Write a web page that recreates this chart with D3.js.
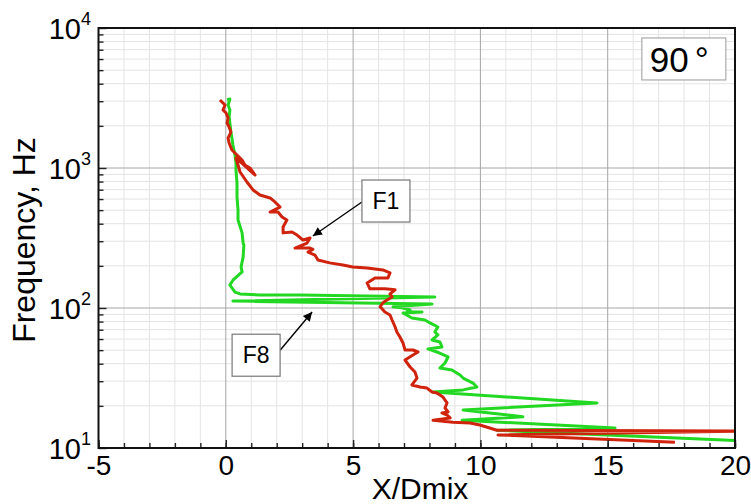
<!DOCTYPE html>
<html>
<head>
<meta charset="utf-8">
<script src="https://cdn.jsdelivr.net/npm/d3@7/dist/d3.min.js"></script>
<style>
  body { margin: 0; background: #fff; }
  text { font-family: "Liberation Sans", Arial, sans-serif; fill: #000; }
</style>
</head>
<body>
<div id="container"></div>
<script>
// axis setup
var xTicks = [-5, 0, 5, 10, 15, 20];
var yExponents = [1, 2, 3, 4];

// F1 (red) : x/Dmix and frequency (Hz)
var redX = [-0.23, -0.11, -0.03, -0.11, 0.01, 0.09, 0.05, 0.13, 0.20, 0.09, 0.13, 0.24, 0.44, 0.64, 0.75, 0.95, 1.15,
  0.40, 0.56, 0.83, 1.07, 1.34, 1.74, 1.93, 2.13, 1.74, 2.05, 2.21, 2.40, 2.25, 2.25, 2.60, 2.80, 3.03, 3.31, 3.19,
  2.72, 3.31, 3.42, 3.23, 3.50, 3.62, 4.08, 4.60, 4.99, 5.55, 6.17, 6.45, 6.37, 5.86, 5.55, 5.66, 6.25, 6.65, 6.45,
  6.53, 6.33, 6.17, 6.06, 6.25, 6.45, 6.53, 6.65, 6.72, 6.84, 6.96, 7.04, 7.35, 7.55, 7.35, 7.04, 7.24, 7.43, 7.51,
  7.31, 7.63, 7.90, 8.10, 8.29, 8.53, 8.69, 8.61, 8.73, 8.49, 8.69, 8.81, 8.14, 8.92, 9.59, 9.98, 10.65, 20.6,
  10.69, 17.64];
var redF = [3062, 2911, 2818, 2597, 2471, 2276, 2096, 1963, 1807, 1637, 1509, 1344, 1239, 1140, 1050, 1000, 891,
  1179, 936, 794, 697, 642, 611, 572, 526, 485, 485, 447, 425, 379, 344, 349, 332, 306, 316, 291,
  268, 268, 262, 251, 239, 220, 210, 203, 196, 193, 187, 178, 164, 164, 151, 137, 137, 135, 126,
  120, 114, 109, 102, 93.6, 89.1, 82.1, 73.2, 67.4, 62.1, 56.2, 50.1, 50.1, 48.5, 46.2, 42.5, 37.9, 34.9, 31.6,
  28.2, 27.3, 26.8, 25.1, 24.7, 23.1, 21.0, 19.3, 18.1, 17.8, 17.2, 16.4, 15.8, 15.3, 15.1, 14.6, 13.4, 13.2,
  12.4, 11.0];

// F8 (green)
var greenX = [0.05, 0.16, 0.09, 0.16, 0.13, 0.16, 0.20, 0.24, 0.28, 0.32, 0.36, 0.40, 0.40, 0.44, 0.44, 0.48, 0.48,
  0.64, 0.68, 0.71, 0.68, 0.60, 0.64, 0.28, 0.16, 0.36, 0.56, 1.34, 2.91, 8.21, 0.28, 8.10, 6.57, 6.96, 7.24, 7.12,
  7.71, 6.96, 7.31, 7.82, 8.02, 8.33, 8.21, 8.33, 8.10, 8.41, 8.49, 7.94, 8.29, 8.73, 8.61, 8.41, 8.88, 9.20, 9.32,
  9.71, 9.86, 9.32, 8.14, 14.58, 9.32, 11.67, 9.28, 15.29, 10.65, 20.6];
var greenF = [3062, 3111, 2818, 2597, 2313, 2096, 1807, 1637, 1460, 1344, 1239, 1086, 968, 781, 621, 501, 425,
  344, 291, 282, 231, 196, 181, 158, 146, 130, 126, 124, 124, 120, 112, 107, 102, 100, 96.8, 93.6,
  93.6, 92.1, 84.9, 82.1, 78.2, 73.2, 67.4, 64.2, 59.1, 57.2, 52.6, 51.0, 48.5, 44.7, 40.5, 37.3, 36.1, 33.2, 31.6,
  29.1, 27.3, 26.0, 25.1, 21.0, 18.7, 16.7, 15.8, 13.9, 13.4, 11.2];

// labels and their anchor points (data units)
var labelNames = ["F1", "F8"];
var labelPos = [[6.29, 581], [1.19, 46]];
var arrowTips = [[3.42, 327], [3.39, 93.6]];
var angleText = "90";
var anglePos = [17.99, 6010];

var width = 751;
var height = 504;
var margin = {left: 98.5, right: 16, top: 28, bottom: 56};

var svg = d3.select("#container")
  .append("svg")
  .attr("width", width)
  .attr("height", height);

var x = d3.scaleLinear()
  .domain([-5, 20])
  .range([margin.left, width - margin.right]);

var y = d3.scaleLog()
  .domain([10, 10000])
  .range([height - margin.bottom, margin.top]);

var left = x.range()[0], right = x.range()[1];
var top_ = y.range()[1], bottom = y.range()[0];

// minor values
var xMinor = d3.range(-5, 20.5, 1);
var yMinor = [];
[1, 2, 3].forEach(function(e) {
  for (var k = 2; k <= 9; k++) yMinor.push(k * Math.pow(10, e));
});
var yMajor = yExponents.map(function(e) { return Math.pow(10, e); });

// grid
var grid = svg.append("g");
grid.selectAll(".vminor").data(xMinor.filter(function(v) { return v % 5 != 0; }))
  .enter().append("line")
  .attr("x1", function(d) { return x(d); }).attr("x2", function(d) { return x(d); })
  .attr("y1", top_).attr("y2", bottom)
  .attr("stroke", "#e4e4e4").attr("stroke-width", 1);
grid.selectAll(".hminor").data(yMinor)
  .enter().append("line")
  .attr("x1", left).attr("x2", right)
  .attr("y1", function(d) { return y(d); }).attr("y2", function(d) { return y(d); })
  .attr("stroke", "#e4e4e4").attr("stroke-width", 1);
grid.selectAll(".vmajor").data(xTicks)
  .enter().append("line")
  .attr("x1", function(d) { return x(d); }).attr("x2", function(d) { return x(d); })
  .attr("y1", top_).attr("y2", bottom)
  .attr("stroke", "#a6a6a6").attr("stroke-width", 1);
grid.selectAll(".hmajor").data(yMajor)
  .enter().append("line")
  .attr("x1", left).attr("x2", right)
  .attr("y1", function(d) { return y(d); }).attr("y2", function(d) { return y(d); })
  .attr("stroke", "#a6a6a6").attr("stroke-width", 1);

// curves
svg.append("clipPath").attr("id", "clip")
  .append("rect")
  .attr("x", left).attr("y", top_)
  .attr("width", right - left).attr("height", bottom - top_);

var line = d3.line()
  .x(function(d) { return x(d[0]); })
  .y(function(d) { return y(d[1]); });

var redData = redX.map(function(v, i) { return [v, redF[i]]; });
var greenData = greenX.map(function(v, i) { return [v, greenF[i]]; });

var curves = svg.append("g").attr("clip-path", "url(#clip)");
curves.append("path")
  .attr("d", line(greenData))
  .attr("fill", "none")
  .attr("stroke", "#22d822")
  .attr("stroke-width", 3)
  .attr("stroke-linejoin", "round");
curves.append("path")
  .attr("d", line(redData))
  .attr("fill", "none")
  .attr("stroke", "#d0230d")
  .attr("stroke-width", 3)
  .attr("stroke-linejoin", "round");

// axes (ticks drawn inside)
var xAxis = d3.axisBottom(x).tickValues(xTicks).tickSizeInner(-8).tickSizeOuter(0).tickPadding(7)
  .tickFormat(function(d) { return d; });
var xAxisMinor = d3.axisBottom(x).tickValues(xMinor).tickSize(-5).tickFormat("");
var yAxis = d3.axisLeft(y).tickValues(yMajor).tickSizeInner(-8).tickSizeOuter(0).tickFormat("");
var yAxisMinor = d3.axisLeft(y).tickValues(yMinor).tickSize(-5).tickFormat("");

svg.append("g").attr("transform", "translate(0," + bottom + ")").call(xAxisMinor)
  .call(function(g) { g.select(".domain").remove(); });
var gx = svg.append("g").attr("transform", "translate(0," + bottom + ")").call(xAxis);
gx.selectAll("text").attr("font-size", 28).attr("font-family", "Liberation Sans, Arial, sans-serif")
  .attr("fill", "#000");
svg.append("g").attr("transform", "translate(" + left + ",0)").call(yAxisMinor)
  .call(function(g) { g.select(".domain").remove(); });
var gy = svg.append("g").attr("transform", "translate(" + left + ",0)").call(yAxis);
svg.selectAll(".tick line").attr("stroke", "#222").attr("stroke-width", 1.4);
svg.selectAll(".domain").remove();

// y labels with superscript
var ylab = svg.append("g").selectAll("text").data(yExponents).enter().append("text")
  .attr("x", 91)
  .attr("y", function(d) { return y(Math.pow(10, d)) + 11; })
  .attr("text-anchor", "end")
  .attr("font-size", 29);
ylab.append("tspan").text("10");
ylab.append("tspan").attr("dy", -14).attr("font-size", 18).text(function(d) { return d; });

// frame
svg.append("rect")
  .attr("x", left).attr("y", top_)
  .attr("width", right - left).attr("height", bottom - top_)
  .attr("fill", "none").attr("stroke", "#111").attr("stroke-width", 2);

// axis titles
svg.append("text")
  .attr("x", 420).attr("y", 499)
  .attr("text-anchor", "middle")
  .attr("font-size", 30)
  .text("X/Dmix");
svg.append("text")
  .attr("transform", "translate(35,240) rotate(-90)")
  .attr("text-anchor", "middle")
  .attr("font-size", 32)
  .text("Frequency, Hz");

// arrowhead
svg.append("defs").append("marker")
  .attr("id", "arrow").attr("viewBox", "0 0 10 10")
  .attr("refX", 10).attr("refY", 5)
  .attr("markerWidth", 11).attr("markerHeight", 9)
  .attr("markerUnits", "userSpaceOnUse")
  .attr("orient", "auto")
  .append("path").attr("d", "M0,0 L10,5 L0,10 Z").attr("fill", "#000");

// annotations
var boxW = 48, boxH = 42;
labelNames.forEach(function(name, i) {
  var cx = x(labelPos[i][0]), cy = y(labelPos[i][1]);
  var tx = x(arrowTips[i][0]), ty = y(arrowTips[i][1]);
  var sx = tx < cx ? cx - boxW / 2 : cx + boxW / 2;
  svg.append("line")
    .attr("x1", sx).attr("y1", cy + (i == 0 ? 1 : -5))
    .attr("x2", tx).attr("y2", ty)
    .attr("stroke", "#000").attr("stroke-width", 1.4)
    .attr("marker-end", "url(#arrow)");
  svg.append("rect")
    .attr("x", cx - boxW / 2).attr("y", cy - boxH / 2)
    .attr("width", boxW).attr("height", boxH)
    .attr("fill", "#fff").attr("stroke", "#777").attr("stroke-width", 1.2);
  svg.append("text")
    .attr("x", cx).attr("y", cy + 8)
    .attr("text-anchor", "middle")
    .attr("font-size", 23)
    .text(name);
});

var ax = x(anglePos[0]), ay = y(anglePos[1]);
svg.append("rect")
  .attr("x", ax - 42).attr("y", ay - 21)
  .attr("width", 84).attr("height", 42)
  .attr("fill", "#fff").attr("stroke", "#aaa").attr("stroke-width", 1.2);
var at = svg.append("text")
  .attr("x", ax - 34).attr("y", ay + 13)
  .attr("font-size", 35);
at.append("tspan").text(angleText);
at.append("tspan").attr("dx", 6).text("°");
</script>
</body>
</html>
